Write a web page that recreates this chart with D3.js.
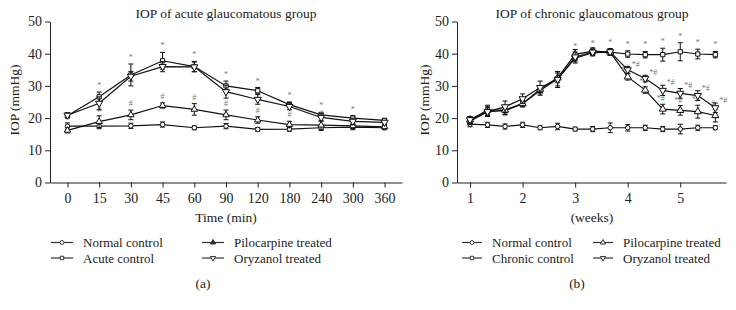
<!DOCTYPE html>
<html>
<head>
<meta charset="utf-8">
<script src="https://cdn.jsdelivr.net/npm/d3@7"></script>
<style>
  body { margin: 0; background: #fff; }
  svg { display: block; font-family: "Liberation Serif", "DejaVu Serif", serif; }
  .axis path, .axis line { stroke: #222; }
  .axis text { font-size: 14px; fill: #222; font-family: "Liberation Serif", serif; }
</style>
</head>
<body>
<svg width="736" height="310"></svg>
<script>
// ---- data: acute (a) ----
var acuteTimes = ["0", "15", "30", "45", "60", "90", "120", "180", "240", "300", "360"];
var acuteNormal     = [17.5, 17.5, 17.6, 18.0, 17.0, 17.5, 16.5, 16.6, 17.0, 17.2, 17.0];
var acuteNormalErr  = [1.0, 0.8, 0.8, 0.8, 0.6, 0.8, 0.6, 0.7, 0.8, 0.8, 0.6];
var acuteControl    = [20.7, 26.6, 33.4, 37.8, 36.0, 30.0, 28.5, 24.2, 21.0, 20.0, 19.3];
var acuteControlErr = [0.6, 1.5, 3.4, 2.6, 1.6, 1.5, 1.0, 0.8, 0.8, 0.8, 0.6];
var acutePilo       = [16.2, 18.9, 21.0, 23.9, 22.7, 21.0, 19.4, 18.0, 17.8, 17.6, 17.3];
var acutePiloErr    = [0.8, 1.8, 1.5, 0.8, 1.8, 1.5, 1.0, 1.0, 1.5, 0.8, 0.6];
var acuteOryz       = [20.9, 24.6, 33.0, 36.0, 35.9, 28.2, 25.8, 23.6, 20.2, 19.0, 18.7];
var acuteOryzErr    = [0.8, 2.0, 1.5, 1.6, 1.5, 2.0, 1.5, 1.0, 1.2, 1.0, 0.6];
var acuteControlMarks = ["", "*", "*", "*", "*", "*", "*", "*", "*", "*", ""];
var acutePiloMarks    = ["", "#", "#", "#", "#", "#", "#", "#", "#", "", ""];

// ---- data: chronic (b) ----
var chronicWeeks = [1, 4/3, 5/3, 2, 7/3, 8/3, 3, 10/3, 11/3, 4, 13/3, 14/3, 5, 16/3, 17/3];
var weekTicks = [1, 2, 3, 4, 5];
var chronicNormal     = [18.1, 17.9, 17.4, 17.9, 17.0, 17.4, 16.6, 16.6, 17.0, 17.0, 17.0, 16.6, 16.6, 17.0, 17.0];
var chronicNormalErr  = [0.8, 0.8, 0.8, 0.8, 0.6, 1.0, 0.6, 0.8, 1.5, 1.0, 0.8, 0.8, 1.5, 0.8, 0.6];
var chronicControl    = [19.0, 22.0, 22.3, 24.5, 28.6, 32.2, 38.6, 40.3, 40.5, 39.9, 39.7, 39.7, 40.6, 39.9, 39.7];
var chronicControlErr = [1.0, 1.2, 1.2, 1.0, 1.5, 2.2, 1.5, 1.0, 1.0, 1.0, 1.0, 2.0, 2.8, 1.5, 1.0];
var chronicPilo       = [19.5, 22.5, 22.5, 24.5, 29.0, 32.5, 39.8, 40.8, 40.5, 32.8, 28.7, 22.8, 22.4, 22.0, 20.8];
var chronicPiloErr    = [1.0, 1.5, 1.5, 1.0, 1.0, 1.5, 1.5, 1.0, 1.0, 1.0, 1.0, 1.5, 1.5, 2.0, 2.0];
var chronicOryz       = [19.5, 22.0, 23.5, 26.0, 29.5, 32.0, 39.0, 40.5, 40.6, 35.0, 32.3, 28.6, 27.7, 27.0, 23.2];
var chronicOryzErr    = [1.0, 1.5, 1.8, 1.5, 2.0, 2.5, 1.5, 1.0, 1.0, 1.0, 1.0, 1.6, 1.5, 1.5, 1.5];
var chronicControlMarks = ["", "", "", "", "", "", "*", "*", "*", "*", "*", "*", "*", "*", "*"];
var chronicOryzMarks    = ["", "", "", "", "", "", "", "", "", "*#", "*#", "*#", "*#", "*#", "*#"];
var chronicPiloMarks    = ["", "", "", "", "", "", "", "", "", "#*", "*#", "*#", "*#", "*#", "#"];

var yTicks = [0, 10, 20, 30, 40, 50];

var svg = d3.select("svg");
var y = d3.scaleLinear().domain([0, 50]).range([182.5, 21.5]);

function sym(type, size) {
  return d3.symbol().type(type).size(size)();
}

function drawPanel(p) {
  var g = svg.append("g");

  g.append("g")
      .attr("class", "axis")
      .attr("transform", "translate(" + p.x.range()[0] + ",0)")
      .call(d3.axisLeft(y).tickValues(yTicks).tickSize(5).tickSizeOuter(0).tickPadding(3));

  g.append("g")
      .attr("class", "axis")
      .attr("transform", "translate(0," + y(0) + ")")
      .call(p.xAxis);

  g.append("text")
      .attr("x", p.titleX).attr("y", 18)
      .attr("text-anchor", "middle")
      .attr("font-size", 13.5)
      .attr("fill", "#222")
      .text(p.title);

  g.append("text")
      .attr("transform", "translate(" + p.yLabelX + "," + 100 + ") rotate(-90)")
      .attr("text-anchor", "middle")
      .attr("font-size", 13.5)
      .attr("fill", "#222")
      .text("IOP (mmHg)");

  g.append("text")
      .attr("x", p.titleX).attr("y", 222)
      .attr("text-anchor", "middle")
      .attr("font-size", 13.5)
      .attr("fill", "#222")
      .text(p.xLabel);

  g.append("text")
      .attr("x", p.capX).attr("y", 288)
      .attr("text-anchor", "middle")
      .attr("font-size", 13.5)
      .attr("fill", "#222")
      .text(p.caption);

  var line = d3.line()
      .x(function(d) { return p.xv(d.k); })
      .y(function(d) { return y(d.v); });

  p.series.forEach(function(s) {
    var pts = s.values.map(function(v, i) {
      return {k: p.keys[i], v: v, e: s.err[i]};
    });

    g.append("path")
        .datum(pts)
        .attr("fill", "none")
        .attr("stroke", "#111")
        .attr("stroke-width", 1.2)
        .attr("d", line);

    var eb = g.append("g").selectAll("g")
        .data(pts)
        .enter().append("g")
        .attr("stroke", "#111")
        .attr("stroke-width", 1);
    eb.append("line")
        .attr("x1", function(d) { return p.xv(d.k); })
        .attr("x2", function(d) { return p.xv(d.k); })
        .attr("y1", function(d) { return y(d.v - d.e); })
        .attr("y2", function(d) { return y(d.v + d.e); });
    eb.append("line")
        .attr("x1", function(d) { return p.xv(d.k) - 2.5; })
        .attr("x2", function(d) { return p.xv(d.k) + 2.5; })
        .attr("y1", function(d) { return y(d.v + d.e); })
        .attr("y2", function(d) { return y(d.v + d.e); });
    eb.append("line")
        .attr("x1", function(d) { return p.xv(d.k) - 2.5; })
        .attr("x2", function(d) { return p.xv(d.k) + 2.5; })
        .attr("y1", function(d) { return y(d.v - d.e); })
        .attr("y2", function(d) { return y(d.v - d.e); });

    g.append("g").selectAll("path")
        .data(pts)
        .enter().append("path")
        .attr("transform", function(d) {
          return "translate(" + p.xv(d.k) + "," + y(d.v) + ")" + (s.flip ? " rotate(180)" : "");
        })
        .attr("d", sym(s.symbol, s.size))
        .attr("fill", "#fff")
        .attr("stroke", "#111")
        .attr("stroke-width", 1);

    if (s.marks) {
      g.append("g").selectAll("text")
          .data(pts.map(function(d, i) { return {k: d.k, v: d.v, e: d.e, m: s.marks[i]}; })
                   .filter(function(d) { return d.m; }))
          .enter().append("text")
          .attr("x", function(d) { return p.xv(d.k) + s.markDx; })
          .attr("y", function(d) { return y(d.v + d.e) + s.markDy; })
          .attr("text-anchor", "middle")
          .attr("font-size", 8)
          .attr("fill", "#777")
          .text(function(d) { return d.m; });
    }
  });

  // legend
  var leg = g.append("g").selectAll("g")
      .data(p.series)
      .enter().append("g")
      .attr("transform", function(d, i) {
        return "translate(" + p.legCols[Math.floor(i / 2)] + "," + (i % 2 === 0 ? 242.5 : 258) + ")";
      });
  leg.append("line")
      .attr("x1", 0).attr("x2", p.legLine)
      .attr("stroke", "#333").attr("stroke-width", 1.2);
  leg.append("path")
      .attr("transform", function(d) { return "translate(" + p.legLine / 2 + ",0)" + (d.flip ? " rotate(180)" : ""); })
      .attr("d", function(d) { return sym(d.symbol, 12); })
      .attr("fill", function(d) { return d.legFill || "#fff"; })
      .attr("stroke", "#333").attr("stroke-width", 1);
  leg.append("text")
      .attr("x", p.legLine + 10)
      .attr("y", 0)
      .attr("dy", "0.35em")
      .attr("font-size", 13)
      .attr("fill", "#222")
      .text(function(d) { return d.name; });
}

// panel (a)
var xa = d3.scalePoint().domain(acuteTimes).range([50, 402]).padding(0.55);
drawPanel({
  title: "IOP of acute glaucomatous group",
  xLabel: "Time (min)",
  caption: "(a)",
  titleX: 226, capX: 203, yLabelX: 19,
  keys: acuteTimes,
  x: xa,
  xv: function(k) { return xa(k); },
  xAxis: d3.axisBottom(xa).tickSize(5).tickSizeOuter(0).tickPadding(6),
  legCols: [51, 202], legLine: 22,
  series: [
    {name: "Normal control", values: acuteNormal, err: acuteNormalErr, symbol: d3.symbolCircle, size: 16},
    {name: "Acute control", values: acuteControl, err: acuteControlErr, symbol: d3.symbolSquare, size: 18,
     marks: acuteControlMarks, markDx: 0, markDy: -4},
    {name: "Pilocarpine treated", values: acutePilo, err: acutePiloErr, symbol: d3.symbolTriangle, size: 18,
     marks: acutePiloMarks, markDx: 0, markDy: -4, legFill: "#333"},
    {name: "Oryzanol treated", values: acuteOryz, err: acuteOryzErr, symbol: d3.symbolTriangle, size: 22, flip: true}
  ]
});

// panel (b)
var xb = d3.scaleLinear().domain([0.752, 5.87]).range([457, 726]);
drawPanel({
  title: "IOP of chronic glaucomatous group",
  xLabel: "(weeks)",
  caption: "(b)",
  titleX: 592, capX: 577, yLabelX: 429,
  keys: chronicWeeks,
  x: xb,
  xv: function(k) { return xb(k); },
  xAxis: d3.axisBottom(xb).tickValues(weekTicks).tickFormat(d3.format("d")).tickSize(5).tickSizeOuter(0).tickPadding(6),
  legCols: [462, 593], legLine: 20,
  series: [
    {name: "Normal control", values: chronicNormal, err: chronicNormalErr, symbol: d3.symbolCircle, size: 16},
    {name: "Chronic control", values: chronicControl, err: chronicControlErr, symbol: d3.symbolSquare, size: 18,
     marks: chronicControlMarks, markDx: 0, markDy: -4},
    {name: "Pilocarpine treated", values: chronicPilo, err: chronicPiloErr, symbol: d3.symbolTriangle, size: 22,
     marks: chronicPiloMarks, markDx: -2, markDy: -3},
    {name: "Oryzanol treated", values: chronicOryz, err: chronicOryzErr, symbol: d3.symbolTriangle, size: 22, flip: true,
     marks: chronicOryzMarks, markDx: 8, markDy: 0}
  ]
});
</script>
</body>
</html>
